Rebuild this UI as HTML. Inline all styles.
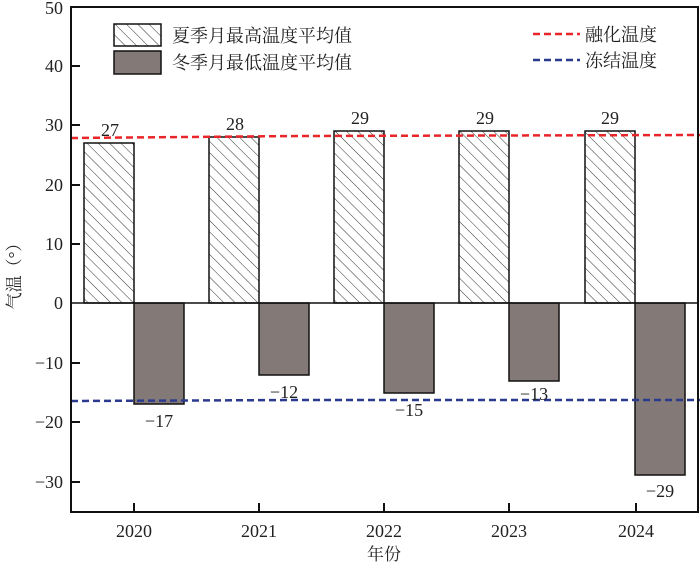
<!DOCTYPE html>
<html><head><meta charset="utf-8"><style>body{margin:0;background:#fff}</style></head><body>
<svg width="700" height="569" viewBox="0 0 700 569" xmlns="http://www.w3.org/2000/svg" font-family="Liberation Serif, Noto Serif CJK SC, serif" font-size="18" fill="#222">
<defs><pattern id="h" patternUnits="userSpaceOnUse" width="8" height="8" patternTransform="rotate(-45)"><rect width="8" height="8" fill="#fff"/><line x1="0" y1="0" x2="0" y2="8" stroke="#333" stroke-width="1"/></pattern></defs>
<g stroke="#111" stroke-width="1.5">
<rect x="84" y="143" width="50" height="160" fill="url(#h)"/>
<rect x="209" y="137" width="50" height="166" fill="url(#h)"/>
<rect x="334" y="131" width="50" height="172" fill="url(#h)"/>
<rect x="459" y="131" width="50" height="172" fill="url(#h)"/>
<rect x="585" y="131" width="50" height="172" fill="url(#h)"/>
<rect x="134" y="303" width="50" height="101" fill="#837a77"/>
<rect x="259" y="303" width="50" height="72" fill="#837a77"/>
<rect x="384" y="303" width="50" height="90" fill="#837a77"/>
<rect x="509" y="303" width="50" height="78" fill="#837a77"/>
<rect x="635" y="303" width="50" height="172" fill="#837a77"/>
<line x1="71" y1="303" x2="698" y2="303"/>
</g>
<polyline points="71,138 300,136 700,135" fill="none" stroke="#e8262a" stroke-width="2.5" stroke-dasharray="7,4"/>
<polyline points="71,401 300,400 700,400" fill="none" stroke="#2b3a8f" stroke-width="2.5" stroke-dasharray="7,4"/>
<rect x="71" y="7" width="627" height="505" fill="none" stroke="#111" stroke-width="2"/>
<g stroke="#111" stroke-width="2">
<line x1="71" y1="66" x2="80" y2="66"/><line x1="71" y1="125" x2="80" y2="125"/><line x1="71" y1="185" x2="80" y2="185"/><line x1="71" y1="244" x2="80" y2="244"/><line x1="71" y1="363" x2="80" y2="363"/><line x1="71" y1="422" x2="80" y2="422"/><line x1="71" y1="482" x2="80" y2="482"/>
<line x1="134" y1="512" x2="134" y2="503"/><line x1="259" y1="512" x2="259" y2="503"/><line x1="384" y1="512" x2="384" y2="503"/><line x1="509" y1="512" x2="509" y2="503"/><line x1="636" y1="512" x2="636" y2="503"/>
</g>
<g text-anchor="end">
<text x="63" y="14">50</text><text x="63" y="72">40</text><text x="63" y="131">30</text><text x="63" y="191">20</text><text x="63" y="250">10</text><text x="63" y="309">0</text><text x="63" y="369">−10</text><text x="63" y="428">−20</text><text x="63" y="488">−30</text>
</g>
<g text-anchor="middle">
<text x="134" y="537">2020</text><text x="259" y="537">2021</text><text x="384" y="537">2022</text><text x="509" y="537">2023</text><text x="636" y="537">2024</text>
<text x="110" y="136">27</text><text x="235" y="130">28</text><text x="360" y="124">29</text><text x="485" y="124">29</text><text x="610" y="124">29</text>
<text x="159" y="427">−17</text><text x="284" y="398">−12</text><text x="409" y="416">−15</text><text x="534" y="400">−13</text><text x="660" y="497">−29</text>
<text x="384" y="560" font-size="17">年份</text>
<text transform="translate(20,272) rotate(-90)" font-size="17">气温（°）</text>
</g>
<rect x="114" y="24" width="47" height="22" fill="url(#h)" stroke="#111" stroke-width="1.5"/>
<rect x="114" y="51" width="47" height="23" fill="#837a77" stroke="#111" stroke-width="1.5"/>
<text x="172" y="42" font-size="18">夏季月最高温度平均值</text>
<text x="172" y="69" font-size="18">冬季月最低温度平均值</text>
<line x1="533" y1="34" x2="580" y2="34" stroke="#e8262a" stroke-width="2.5" stroke-dasharray="7,4"/>
<line x1="533" y1="60" x2="580" y2="60" stroke="#2b3a8f" stroke-width="2.5" stroke-dasharray="7,4"/>
<text x="585" y="41" font-size="18">融化温度</text>
<text x="585" y="67" font-size="18">冻结温度</text>
</svg>
</body></html>
